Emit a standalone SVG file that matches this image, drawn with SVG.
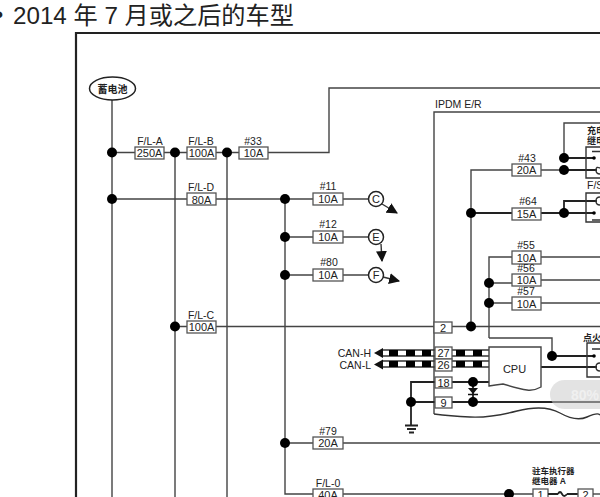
<svg xmlns="http://www.w3.org/2000/svg" width="600" height="497" viewBox="0 0 600 497">
<defs>
<marker id="arr" viewBox="0 0 10 10" refX="9" refY="5" markerWidth="11" markerHeight="11" markerUnits="userSpaceOnUse" orient="auto"><path d="M0 0L10 5L0 10Z" fill="#111"/></marker>
</defs>
<style>
text{font-family:"Liberation Sans","Noto Sans CJK SC",sans-serif;fill:#222}
.l{font-size:10.5px;text-anchor:middle}
.v{font-size:11px;text-anchor:middle}
.z{font-size:9px;font-weight:bold}
.w{fill:none;stroke:#444;stroke-width:1.4}
.k{fill:none;stroke:#222;stroke-width:1.8}
.b{fill:#fff;stroke:#555;stroke-width:1.3}
.d{fill:#000}
.t{fill:#fff;stroke:#222;stroke-width:1.5}
.s{fill:none;stroke:#333;stroke-width:1.4}
</style>
<rect width="600" height="497" fill="#fff"/>
<text x="-5" y="23" font-size="23.500">•</text>
<text x="13" y="24" font-size="24.200">2014 年 7 月或之后的车型</text>
<path d="M76 497V33H600" fill="none" stroke="#222" stroke-width="2.200"/>
<g id="connectors">
<path class="w" d="M112 100V497M112 152.500H135M164 152.500H187M216 152.500H239M268 152.500H329V88H600"/>
<path class="w" d="M175 152.500V497M227 152.500V497M112 199H187M216 199H313M343 199H368"/>
<path class="w" d="M285 199V494H313M285 237H313M343 237H368M285 275H313M343 275H368"/>
<path class="w" d="M175 326.500H187M216 326.500H434M452 326.500H600"/>
<path class="w" d="M285 443H313M343 443H600M343 494H533"/>
<path class="w" d="M434 414V112H600"/>
<path class="w" d="M471 326.500V170H512M541 170H564M564 158V123H600"/>
<path class="k" d="M564 158H594M564 170H597M564 213V201H597M541 213H594M471 213H512"/>
<path class="w" d="M489 338V257H512M489 283H512M489 303H512M541 257H600M541 280H600M541 303H600M489 338H552V356"/>
<path class="k" d="M552 356H594M541 367H597"/>
<path class="s" d="M383 350H435M383 356H435M383 361H435M383 367H435M452 350H489M452 356H489M452 361H489M452 367H489"/>
<path d="M389 353H398M406 353H415M422 353H431M456 353H465M473 353H482M389 364H398M406 364H415M422 364H431M456 364H465M473 364H482" stroke="#000" stroke-width="6" fill="none"/>
<path class="k" d="M452 382H489M435 382H411V425M411 402H435M452 402H600M473 382V402"/>
<path class="s" d="M434 414Q450 416 470 417T517 411T560 413T587 417T600 415"/>
<path class="k" d="M405 425.500H418M407 429H416M409 432.500H414"/>
<path class="s" d="M382 204L397 213" marker-end="url(#arr)"/>
<path class="s" d="M381 244L382 261" marker-end="url(#arr)"/>
<path class="s" d="M383 277L399 281" marker-end="url(#arr)"/>
</g>
<g id="battery"><ellipse cx="112.500" cy="88.500" rx="23" ry="11.500" fill="#fff" stroke="#222" stroke-width="1.500"/><text x="112.500" y="92.500" class="z" style="font-size:10px" text-anchor="middle">蓄电池</text></g>
<g id="junctions">
<circle class="d" cx="112" cy="152.500" r="5"/><circle class="d" cx="175" cy="152.500" r="5"/><circle class="d" cx="227" cy="152.500" r="5"/><circle class="d" cx="112" cy="199" r="5"/><circle class="d" cx="285" cy="199" r="5"/><circle class="d" cx="285" cy="237" r="5"/><circle class="d" cx="285" cy="275" r="5"/><circle class="d" cx="175" cy="326.500" r="5"/><circle class="d" cx="285" cy="443" r="5"/><circle class="d" cx="471" cy="213" r="5"/><circle class="d" cx="471" cy="326.500" r="5"/><circle class="d" cx="564" cy="158" r="5"/><circle class="d" cx="564" cy="170" r="5"/><circle class="d" cx="564" cy="213" r="5"/><circle class="d" cx="489" cy="283" r="5"/><circle class="d" cx="489" cy="303" r="5"/><circle class="d" cx="552" cy="356" r="5"/><circle class="d" cx="473" cy="382" r="5"/><circle class="d" cx="473" cy="402" r="5"/><circle class="d" cx="411" cy="402" r="5"/><circle class="d" cx="509" cy="494" r="5"/>
</g>
<g id="fuses">
<g><text class="l" x="150" y="145">F/L-A</text><rect class="b" x="135" y="147" width="29" height="12"/><text class="v" x="149.500" y="157">250A</text></g>
<g><text class="l" x="201" y="145">F/L-B</text><rect class="b" x="187" y="147" width="29" height="12"/><text class="v" x="201.500" y="157">100A</text></g>
<g><text class="l" x="253" y="145">#33</text><rect class="b" x="239" y="147" width="29" height="12"/><text class="v" x="253.500" y="157">10A</text></g>
<g><text class="l" x="201" y="191">F/L-D</text><rect class="b" x="187" y="193" width="29" height="12"/><text class="v" x="201.500" y="203.500">80A</text></g>
<g><text class="l" x="201" y="318.500">F/L-C</text><rect class="b" x="187" y="321" width="29" height="12"/><text class="v" x="201.500" y="331">100A</text></g>
<g><text class="l" x="328" y="190">#11</text><rect class="b" x="313" y="193" width="30" height="12"/><text class="v" x="328" y="203">10A</text></g>
<g><text class="l" x="328" y="228">#12</text><rect class="b" x="313" y="231" width="30" height="12"/><text class="v" x="328" y="241">10A</text></g>
<g><text class="l" x="329" y="266">#80</text><rect class="b" x="313" y="269" width="30" height="12"/><text class="v" x="328" y="279">10A</text></g>
<g><text class="l" x="328" y="435">#79</text><rect class="b" x="313" y="437" width="30" height="12"/><text class="v" x="328" y="447">20A</text></g>
<g><text class="l" x="328" y="487">F/L-0</text><rect class="b" x="313" y="489" width="30" height="12"/><text class="v" x="328" y="499">40A</text></g>
<g><text class="l" x="527" y="162">#43</text><rect class="b" x="512" y="164" width="29" height="12"/><text class="v" x="526.500" y="174">20A</text></g>
<g><text class="l" x="528" y="205">#64</text><rect class="b" x="512" y="208" width="29" height="12"/><text class="v" x="526.500" y="218">15A</text></g>
<g><text class="l" x="526" y="249">#55</text><rect class="b" x="512" y="251" width="29" height="13"/><text class="v" x="526.500" y="261.500">10A</text></g>
<g><text class="l" x="526" y="272">#56</text><rect class="b" x="512" y="274" width="29" height="12"/><text class="v" x="526.500" y="284">10A</text></g>
<g><text class="l" x="526" y="295">#57</text><rect class="b" x="512" y="297" width="29" height="13"/><text class="v" x="526.500" y="307.500">10A</text></g>
</g>
<g id="terminals">
<circle class="t" cx="376" cy="199" r="7.500"/><text class="v" x="376" y="203">C</text>
<circle class="t" cx="376" cy="237" r="7.500"/><text class="v" x="376" y="241">E</text>
<circle class="t" cx="376" cy="275" r="7.500"/><text class="v" x="376" y="279">F</text>
</g>
<g id="ipdm">
<text x="435" y="108" font-size="10.500">IPDM E/R</text>
<g><rect class="b" x="434" y="322" width="18" height="11"/><text class="v" x="443" y="331.500">2</text></g>
<g><rect class="b" x="435" y="347" width="17" height="12"/><text class="v" x="443.500" y="357">27</text></g>
<g><rect class="b" x="435" y="359" width="17" height="12"/><text class="v" x="443.500" y="369">26</text></g>
<g><rect class="b" x="435" y="377" width="17" height="11"/><text class="v" x="443.500" y="386.500">18</text></g>
<g><rect class="b" x="435" y="397" width="17" height="11"/><text class="v" x="443.500" y="406.500">9</text></g>
<g id="cpu"><path d="M489 347H541V387Q534 391 527 390T503 384Q495 385 489 386Z" fill="#fff" stroke="#444" stroke-width="1.400"/><text x="514.500" y="373" font-size="11" text-anchor="middle">CPU</text></g>
<path d="M468 388H478L473 394Z" fill="#111"/><path d="M468 394.500H478" stroke="#111" stroke-width="1.500"/>
</g>
<g id="can">
<text x="371" y="357" font-size="10.500" text-anchor="end">CAN-H</text>
<text x="371" y="369" font-size="10.500" text-anchor="end">CAN-L</text>
<path d="M374 353L383 348V358Z" fill="#111"/><path d="M374 364.500L383 359.500V369.500Z" fill="#111"/>
</g>
<g id="relays">
<text x="587" y="134" class="z">充电</text><text x="587" y="144" class="z">继电</text>
<path class="s" d="M600 147H586V178H600M600 193H586V222H600M600 343H587V377H600"/>
<path class="s" d="M592 151.500H600M600 168Q596 166 596 170T600 174M600 197Q596 197 596 201T600 205M592 220H600M592 349H600M600 363Q596 363 596 367T600 371"/>
<circle class="d" cx="594" cy="158" r="1.800"/><circle class="d" cx="594" cy="213" r="1.800"/><circle class="d" cx="594" cy="356" r="1.800"/>
<text x="587" y="189" font-size="10.500">F/S</text>
<text x="583" y="341" class="z">点火</text>
<text x="532" y="474" class="z" style="font-size:8.500px">驻车执行器</text><text x="532" y="484" class="z" style="font-size:8.500px">继电器 A</text>
<g><rect class="b" x="533" y="489" width="15" height="12"/><text class="v" x="540.500" y="499">1</text><path class="k" d="M548 494H558M567 494H578"/><path class="k" d="M558 494Q560 490 562 494T567 494"/><rect class="b" x="578" y="489" width="15" height="12"/><text class="v" x="585.500" y="499">2</text><path class="w" d="M593 494H600"/></g>
</g>
<rect x="550" y="380" width="70" height="29" rx="14.500" fill="#ccc" fill-opacity=".55"/>
<text x="571" y="400" font-size="14" font-weight="bold" style="fill:#f0f0f0">80%</text>
</svg>
